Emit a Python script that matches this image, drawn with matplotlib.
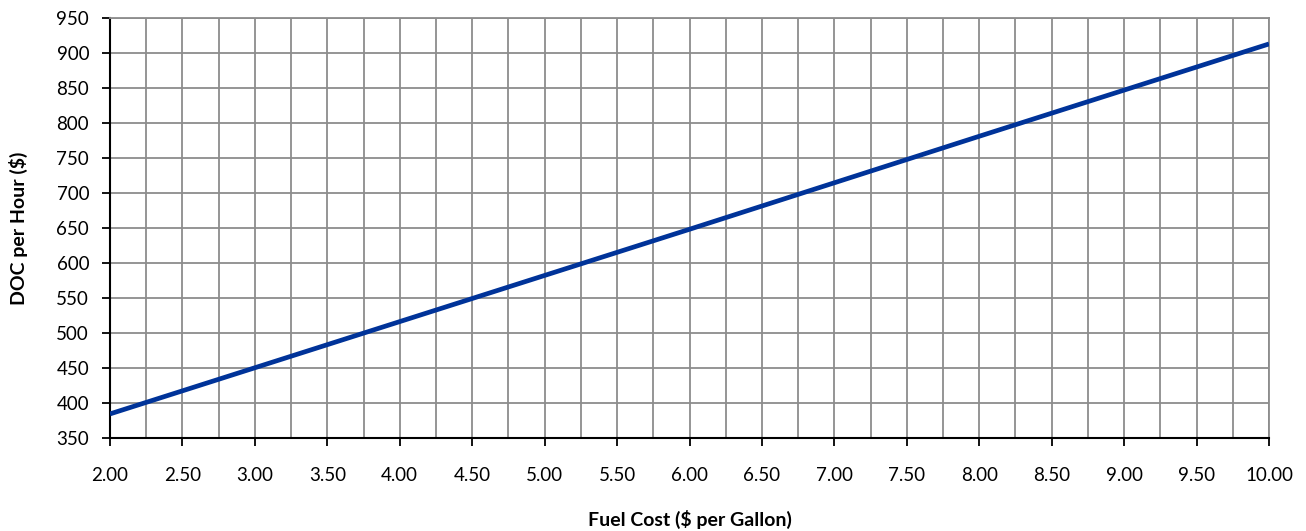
import numpy as np
import matplotlib
matplotlib.use('Agg')
import matplotlib.pyplot as plt
from matplotlib.ticker import MultipleLocator, FormatStrFormatter

plt.rcParams['font.family'] = ['Lato', 'DejaVu Sans']

# Fuel cost ($ per gallon) vs direct operating cost per hour ($)
fuel_cost = [2.0, 4.0, 6.0, 8.0, 10.0]
doc_per_hour = [384, 516, 648, 781, 913]

fig = plt.figure(figsize=(13.06, 5.31), dpi=100)
ax = fig.add_axes([0.0842, 0.1757, 0.8875, 0.7903])

ax.plot(fuel_cost, doc_per_hour, color='#003399', lw=3.4, solid_capstyle='butt', zorder=3)

ax.set_xlim(2, 10)
ax.set_ylim(350, 950)
ax.xaxis.set_major_locator(MultipleLocator(0.5))
ax.xaxis.set_minor_locator(MultipleLocator(0.25))
ax.yaxis.set_major_locator(MultipleLocator(50))
ax.xaxis.set_major_formatter(FormatStrFormatter('%.2f'))

ax.grid(True, which='both', color='#8c8c8c', lw=1.3)
ax.set_axisbelow(True)
ax.tick_params(axis='both', which='major', direction='out', length=6, width=1.3,
               color='black', labelsize=13.5, colors='black')
ax.tick_params(axis='x', which='major', pad=15)
ax.tick_params(axis='y', which='major', pad=9)
ax.tick_params(axis='x', which='minor', length=0)

for side in ['top', 'right']:
    ax.spines[side].set_color('#8c8c8c')
    ax.spines[side].set_linewidth(1.3)
for side in ['left', 'bottom']:
    ax.spines[side].set_color('black')
    ax.spines[side].set_linewidth(1.5)

ax.set_xlabel('Fuel Cost ($ per Gallon)', fontsize=14, fontweight='bold', labelpad=19)
ax.set_ylabel('DOC per Hour ($)', fontsize=14, fontweight='bold', labelpad=20)

fig.savefig('out.png', dpi=100)
